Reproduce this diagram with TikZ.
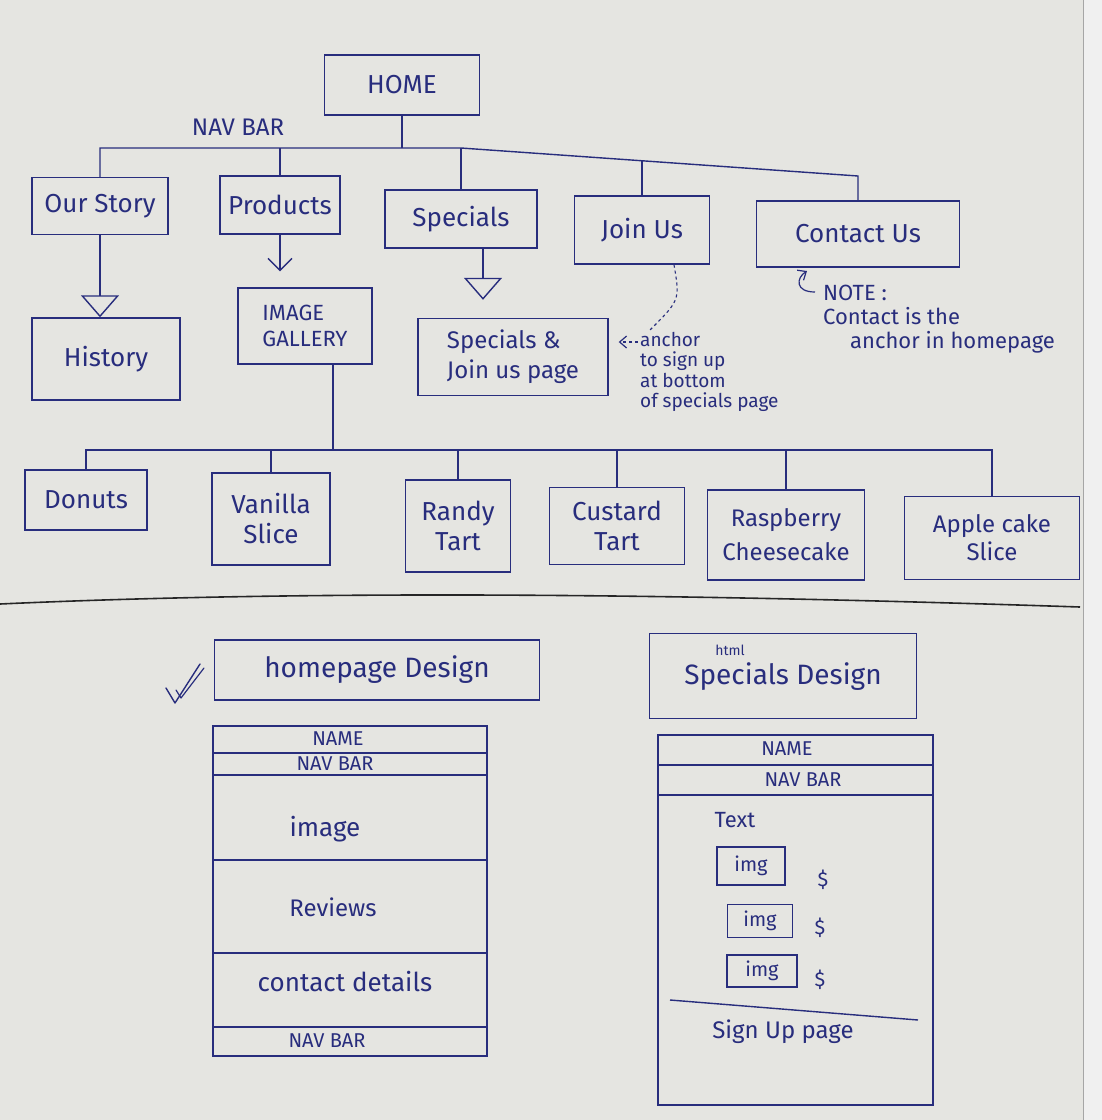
\documentclass[tikz,border=0pt]{standalone}
\usepackage{fontspec}
\setmainfont{Fira Sans}
\usetikzlibrary{arrows.meta}
\definecolor{ink}{RGB}{40,45,125}
\definecolor{paper}{RGB}{229,229,225}
\definecolor{paperedge}{RGB}{240,240,240}
\newcommand\fsz[2]{\fontsize{#1}{#2}\selectfont}
\tikzset{
  wire/.style={draw=ink, line width=1.4pt},
  pbox/.style={draw=ink, line width=1.4pt, text=ink, inner sep=2pt, align=center, font=\fsz{26}{30}},
  lbl/.style={text=ink, inner sep=0pt, align=left, font=\fsz{22}{24}},
  frame/.style={draw=ink, line width=1.4pt},
  wtxt/.style={text=ink, inner sep=0pt, font=\fsz{20}{22}},
  hollowtip/.style={-{Triangle[open,length=22pt,width=38pt,line width=1.4pt]}},
  barbtip/.style={-{Straight Barb[length=12pt,width=24pt,line width=1.4pt]}},
  smallbarb/.style={-{Straight Barb[length=7pt,width=12pt,line width=1.2pt]}}
}
\begin{document}
\begin{tikzpicture}[x=1pt,y=-1pt]
\useasboundingbox (0,0) rectangle (1102,1120);
\fill[paper] (0,0) rectangle (1102,1120);
\fill[paperedge] (1083,0) rectangle (1102,1120);
\draw[black!35, line width=0.8pt] (1083,0) -- (1083,1120);

% ---------- site map, level 1 ----------
\node[pbox, minimum width=155pt, minimum height=60pt] (home) at (402,85) {HOME};
\node[lbl, font=\fsz{24}{26}] (navlabel) at (238,127) {NAV BAR};

\node[pbox, minimum width=136pt, minimum height=57pt] (ourstory) at (100,206) {Our Story};
\node[pbox, minimum width=120pt, minimum height=58pt] (products) at (280,205) {Products};
\node[pbox, minimum width=152pt, minimum height=58pt] (specials) at (461,219) {Specials};
\node[pbox, minimum width=135pt, minimum height=68pt] (joinus) at (642,230) {Join Us};
\node[pbox, minimum width=203pt, minimum height=66pt] (contactus) at (858,234) {Contact Us};

\coordinate (bus1) at (100,148);
\coordinate (bus2) at (461,148);
\coordinate (bus3) at (858,176);
\coordinate (bus4) at (642,161);
\draw[wire] (home.south) -- (home.south |- bus1);
\draw[wire] (ourstory.north) -- (bus1) -- (bus2) -- (bus3) -- (contactus.north);
\draw[wire] (products.north) -- (products.north |- bus1);
\draw[wire] (specials.north) -- (bus2);
\draw[wire] (joinus.north) -- (bus4);

% ---------- level 2 ----------
\node[pbox, minimum width=148pt, minimum height=82pt] (history) at (106,359) {History};
\node[pbox, minimum width=134pt, minimum height=76pt, align=left, font=\fsz{22}{26}] (gallery) at (305,326) {IMAGE\\GALLERY};
\node[pbox, minimum width=190pt, minimum height=77pt, align=left, font=\fsz{24}{30}] (spage) at (513,357) {Specials \&\\Join us page};

\draw[wire, hollowtip] (ourstory.south) -- (ourstory.south |- history.north);
\draw[wire, barbtip, shorten >=16pt] (products.south) -- (products.south |- gallery.north);
\draw[wire, hollowtip, shorten >=18pt] ([xshift=22pt]specials.south) -- ([xshift=22pt]specials.south |- spage.north);

% anchor note for Join Us
\node[lbl, anchor=north west, font=\fsz{19}{20.5}] (anchornote) at (640,332) {anchor\\to sign up\\at bottom\\of specials page};
\coordinate (notetop) at (650,330);
\coordinate (notearrow) at (638,342);
\draw[wire, dashed, line width=1.1pt] ([xshift=32pt]joinus.south) .. controls (680,300) .. (notetop);
\draw[wire, dashed, line width=1.1pt, smallbarb, shorten >=10pt] (notearrow) -- (spage.east |- notearrow);

% note for Contact Us
\node[lbl, anchor=north west, font=\fsz{22}{24}] (contactnote) at (823,285) {NOTE :\\Contact is the\\\hspace*{27pt}anchor in homepage};
\coordinate (curlstart) at (815,292);
\draw[wire, line width=1.2pt, smallbarb] (curlstart) .. controls (795,292) and (796,278) .. (807,271);

% ---------- products ----------
\node[pbox, minimum width=122pt, minimum height=60pt] (donuts) at (86,500) {Donuts};
\node[pbox, minimum width=118pt, minimum height=92pt] (vanilla) at (271,519) {Vanilla\\Slice};
\node[pbox, minimum width=105pt, minimum height=92pt] (randy) at (458,526) {Randy\\Tart};
\node[pbox, minimum width=135pt, minimum height=77pt] (custard) at (617,526) {Custard\\Tart};
\node[pbox, minimum width=157pt, minimum height=90pt, font=\fsz{24}{34}] (rasp) at (786,535) {Raspberry\\Cheesecake};
\node[pbox, minimum width=175pt, minimum height=83pt, font=\fsz{24}{28}] (apple) at (992,538) {Apple cake\\Slice};

\coordinate (gj) at (333,450);
\draw[wire] ([xshift=28pt]gallery.south) -- (gj);
\draw[wire] (donuts.north) -- (donuts.north |- gj) -- (apple.north |- gj) -- (apple.north);
\draw[wire] (vanilla.north) -- (vanilla.north |- gj);
\draw[wire] (randy.north) -- (randy.north |- gj);
\draw[wire] (custard.north) -- (custard.north |- gj);
\draw[wire] (rasp.north) -- (rasp.north |- gj);

% ---------- divider ----------
\draw[black!85, line width=1.6pt] (0,604) .. controls (350,588) and (750,596) .. (1080,607);

% ---------- homepage design ----------
\node[pbox, minimum width=325pt, minimum height=60pt, font=\fsz{28}{32}] (hphead) at (377,670) {homepage Design};
\draw[ink, line width=1.4pt, line cap=round, line join=round] (166,688) -- (175,703) -- (200,664);
\draw[ink, line width=1.2pt, line cap=round, line join=round] (176,690) -- (181,698) -- (204,668);

\draw[frame] (213,726) rectangle (487,1056);
\draw[frame] (213,753) -- (487,753);
\draw[frame] (213,775) -- (487,775);
\draw[frame] (213,860) -- (487,860);
\draw[frame] (213,953) -- (487,953);
\draw[frame] (213,1027) -- (487,1027);
\node[wtxt] (hpname) at (338,739) {NAME};
\node[wtxt] (hpnav) at (335,764) {NAV BAR};
\node[wtxt, font=\fsz{26}{28}] (hpimage) at (325,829) {image};
\node[wtxt, font=\fsz{24}{26}] (hpreviews) at (333,907) {Reviews};
\node[wtxt, font=\fsz{26}{28}] (hpcontact) at (345,982) {contact details};
\node[wtxt] (hpnav2) at (327,1041) {NAV BAR};

% ---------- specials design ----------
\node[pbox, minimum width=267pt, minimum height=85pt, font=\fsz{28}{32}] (sphead) at (783,676) {};
\node[wtxt, font=\fsz{14}{16}] (sphtml) at (730,650) {html};
\node[wtxt, font=\fsz{28}{32}] (sptitle) at (783,677) {Specials Design};

\draw[frame] (658,735) rectangle (933,1105);
\draw[frame] (658,765) -- (933,765);
\draw[frame] (658,795) -- (933,795);
\draw[frame] (670,1000) -- (918,1020);
\node[wtxt] (spname) at (787,749) {NAME};
\node[wtxt] (spnav) at (803,780) {NAV BAR};
\node[wtxt, font=\fsz{22}{24}] (sptext) at (735,820) {Text};
\node[pbox, minimum width=68pt, minimum height=38pt, font=\fsz{20}{22}] (img1) at (751,866) {img};
\node[pbox, minimum width=65pt, minimum height=33pt, font=\fsz{20}{22}] (img2) at (760,921) {img};
\node[pbox, minimum width=70pt, minimum height=32pt, font=\fsz{20}{22}] (img3) at (762,971) {img};
\node[wtxt, font=\fsz{20}{22}] (price1) at (823,880) {\$};
\node[wtxt, font=\fsz{20}{22}] (price2) at (820,928) {\$};
\node[wtxt, font=\fsz{20}{22}] (price3) at (820,980) {\$};
\node[wtxt, font=\fsz{24}{26}] (spsignup) at (783,1032) {Sign Up page};
\end{tikzpicture}
\end{document}
